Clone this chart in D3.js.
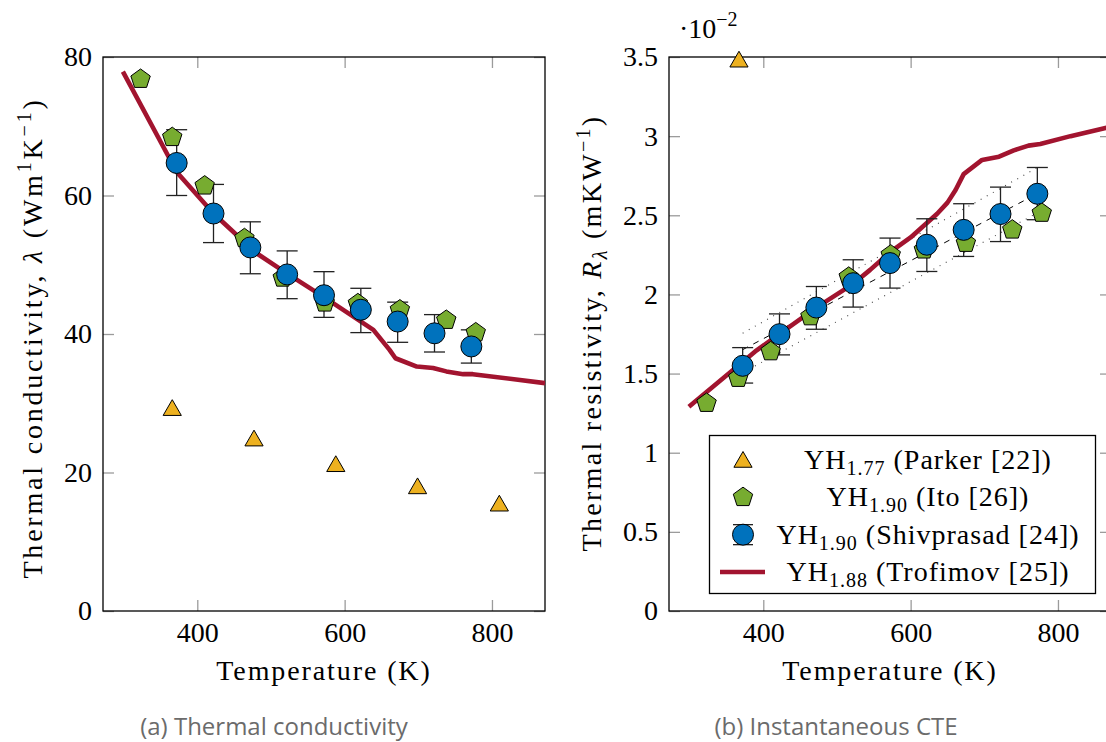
<!DOCTYPE html>
<html>
<head>
<meta charset="utf-8">
<script src="https://cdn.jsdelivr.net/npm/d3@7"></script>
<style>
    body { margin: 0; background: #fff; }
    text { font-family: "Times New Roman", "Liberation Serif", Times, serif; fill: #000; }
    .caption { font-family: "Open Sans", sans-serif; fill: #6b6b6b; }
</style>
</head>
<body>
<svg id="chart" width="1106" height="742"></svg>
<script>
// ---- data ----
const tempParker = [366, 477, 588, 699, 810];
const lambdaParker = [29.0, 24.6, 20.9, 17.7, 15.2];
const tempParkerR = [367];          // only one Parker point fits on panel (b)
const resParker = [3.47];

const tempIto = [323, 366, 410, 464, 516, 573, 618, 675, 738, 778];
const lambdaIto = [76.8, 68.4, 61.4, 53.8, 48.1, 44.5, 44.4, 43.5, 42.0, 40.2];
const resIto = [1.313, 1.471, 1.639, 1.860, 2.110, 2.250, 2.282, 2.324, 2.408, 2.514];

const tempShiv = [372, 422, 472, 522, 572, 622, 672, 722, 772];
const lambdaShiv = [64.7, 57.4, 52.5, 48.6, 45.6, 43.5, 41.8, 40.1, 38.2];
const lambdaShivLo = [60.0, 53.2, 48.7, 45.1, 42.4, 40.2, 38.8, 37.4, 35.8];
const lambdaShivHi = [69.5, 61.6, 56.2, 52.0, 49.0, 46.6, 44.6, 42.8, 40.6];
const resShiv = [1.549, 1.749, 1.917, 2.071, 2.198, 2.314, 2.408, 2.508, 2.636];
const resShivLo = [1.440, 1.618, 1.780, 1.920, 2.040, 2.145, 2.240, 2.334, 2.472];
const resShivHi = [1.664, 1.877, 2.050, 2.219, 2.356, 2.478, 2.573, 2.678, 2.802];

const tempTrofL = [299, 354, 372, 422, 480, 521, 571, 615, 639, 661, 669, 698, 720, 738, 761, 774, 872];
const lambdaTrof = [77.9, 67.0, 63.4, 57.4, 51.7, 48.8, 45.4, 42.3, 40.6, 37.7, 36.5, 35.3, 35.1, 34.6, 34.2, 34.2, 32.9];
const tempTrofR = [299, 389, 473, 523, 545, 573, 600, 636, 650, 661, 672, 697, 720, 740, 760, 776, 817, 872];
const resTrof = [1.291, 1.64, 1.92, 2.07, 2.155, 2.27, 2.36, 2.51, 2.58, 2.66, 2.76, 2.85, 2.87, 2.91, 2.94, 2.95, 3.00, 3.06];

// linear fit of Shivprasad resistivity, with its band
const fitTemp = [372, 772];
const fitMid = [1.651, 2.637];
const fitUpper = [1.755, 2.801];
const fitLower = [1.506, 2.515];

const xTicks = [400, 600, 800];
const yTicksL = [0, 20, 40, 60, 80];
const yTicksR = [0, 0.5, 1, 1.5, 2, 2.5, 3, 3.5];

const legendLabels = [
    { sub: '1.77', rest: ' (Parker [22])', mark: 'triangle' },
    { sub: '1.90', rest: ' (Ito [26])', mark: 'pentagon' },
    { sub: '1.90', rest: ' (Shivprasad [24])', mark: 'circle' },
    { sub: '1.88', rest: ' (Trofimov [25])', mark: 'line' }
];

const colors = { parker: '#EDB120', ito: '#77AC30', shiv: '#0072BD', trof: '#A2142F' };
const serif = '"Times New Roman", "Liberation Serif", Times, serif';

const svg = d3.select('#chart');

// pgfplots-like marks
const triPath = r => `M0,${-r}L${0.866 * r},${0.5 * r}L${-0.866 * r},${0.5 * r}Z`;
const pentPath = r => d3.range(5).map(i => {
    const a = -Math.PI / 2 + i * 2 * Math.PI / 5;
    return (i ? 'L' : 'M') + (r * Math.cos(a)).toFixed(2) + ',' + (r * Math.sin(a)).toFixed(2);
}).join('') + 'Z';

function drawMark(g, type, cx, cy) {
    if (type === 'triangle') {
        g.append('path').attr('d', triPath(10.5)).attr('transform', `translate(${cx},${cy})`)
            .attr('fill', colors.parker).attr('stroke', '#000').attr('stroke-width', 1);
    } else if (type === 'pentagon') {
        g.append('path').attr('d', pentPath(10.2)).attr('transform', `translate(${cx},${cy})`)
            .attr('fill', colors.ito).attr('stroke', '#000').attr('stroke-width', 1);
    } else if (type === 'circle') {
        g.append('circle').attr('cx', cx).attr('cy', cy).attr('r', 10.5)
            .attr('fill', colors.shiv).attr('stroke', '#000').attr('stroke-width', 1);
    }
}

function errorBar(g, cx, y0, y1, half) {
    g.append('line').attr('x1', cx).attr('x2', cx).attr('y1', y0).attr('y2', y1);
    g.append('line').attr('x1', cx - half).attr('x2', cx + half).attr('y1', y0).attr('y2', y0);
    g.append('line').attr('x1', cx - half).attr('x2', cx + half).attr('y1', y1).attr('y2', y1);
}

const render = p => {
    const x = d3.scaleLinear().domain([272, 872]).range([p.left, p.right]);
    const y = d3.scaleLinear().domain(p.yDomain).range([611, 57]);
    const top = 57, bottom = 611;
    const g = svg.append('g');

    const clipId = 'clip' + p.id;
    svg.append('clipPath').attr('id', clipId).append('rect')
        .attr('x', p.left).attr('y', top).attr('width', p.right - p.left).attr('height', bottom - top);

    // ticks on all four sides, pointing inward
    const tickStyle = sel => {
        sel.select('.domain').remove();
        sel.attr('font-family', serif);
        sel.selectAll('.tick line').attr('stroke', '#9b9b9b').attr('stroke-width', 1.3);
        sel.selectAll('.tick text').attr('font-size', 28).attr('fill', '#000');
    };
    g.append('g').attr('transform', `translate(0,${bottom})`)
        .call(d3.axisBottom(x).tickValues(xTicks).tickSize(-11).tickPadding(11).tickFormat(d3.format('d')))
        .call(tickStyle);
    g.append('g').attr('transform', `translate(0,${top})`)
        .call(d3.axisTop(x).tickValues(xTicks).tickSize(-11).tickFormat(''))
        .call(tickStyle);
    g.append('g').attr('transform', `translate(${p.left},0)`)
        .call(d3.axisLeft(y).tickValues(p.yTicks).tickSize(-11).tickPadding(11).tickFormat(d3.format('~g')))
        .call(tickStyle);
    g.append('g').attr('transform', `translate(${p.right},0)`)
        .call(d3.axisRight(y).tickValues(p.yTicks).tickSize(-11).tickFormat(''))
        .call(tickStyle);

    // frame
    g.append('rect').attr('x', p.left).attr('y', top).attr('width', p.right - p.left).attr('height', bottom - top)
        .attr('fill', 'none').attr('stroke', '#000').attr('stroke-width', 1.3);

    const lineGen = d3.line().x(d => x(d[0])).y(d => y(d[1]));

    // fit + band (panel b only)
    if (p.fit) {
        const lines = g.append('g').attr('clip-path', `url(#${clipId})`).attr('fill', 'none');
        lines.append('path').attr('d', lineGen(d3.zip(fitTemp, fitMid)))
            .attr('stroke', '#000').attr('stroke-width', 1).attr('stroke-dasharray', '6,6');
        [fitUpper, fitLower].forEach(band => {
            lines.append('path').attr('d', lineGen(d3.zip(fitTemp, band)))
                .attr('stroke', '#444').attr('stroke-width', 1.1).attr('stroke-dasharray', '1,6');
        });
    }

    // Trofimov curve
    g.append('path').attr('clip-path', `url(#${clipId})`)
        .attr('d', lineGen(d3.zip(p.trofT, p.trofV)))
        .attr('fill', 'none').attr('stroke', colors.trof).attr('stroke-width', 4.6).attr('stroke-linejoin', 'round');

    // error bars
    const eb = g.append('g').attr('stroke', '#222').attr('stroke-width', 1.3);
    tempShiv.forEach((t, i) => errorBar(eb, x(t), y(p.shivLo[i]), y(p.shivHi[i]), 10.5));

    const marks = g.append('g');
    p.parkT.forEach((t, i) => drawMark(marks, 'triangle', x(t), y(p.parkV[i])));
    tempIto.forEach((t, i) => drawMark(marks, 'pentagon', x(t), y(p.itoV[i])));
    tempShiv.forEach((t, i) => drawMark(marks, 'circle', x(t), y(p.shivV[i])));

    // x title
    g.append('text').attr('x', (p.left + p.right) / 2).attr('y', 680)
        .attr('text-anchor', 'middle').attr('font-size', 28).attr('letter-spacing', 1.9)
        .text('Temperature (K)');

    // y title (rotated)
    const yt = g.append('text').attr('transform', `translate(${p.titleX},${p.titleY}) rotate(-90)`)
        .attr('text-anchor', 'middle').attr('font-size', 28).attr('letter-spacing', p.titleSpacing);
    p.yTitle.forEach(part => {
        const ts = yt.append('tspan').text(part.t);
        if (part.it) ts.attr('font-style', 'italic');
        if (part.sup) ts.attr('font-size', 20).attr('dy', -11);
        if (part.sub) ts.attr('font-size', 20).attr('dy', 6);
        if (part.back) ts.attr('dy', part.back);
    });

    // caption
    svg.append('text').attr('class', 'caption').attr('x', p.captionX).attr('y', 735)
        .attr('text-anchor', 'middle').attr('font-size', 24).text(p.caption);

    return { x, y };
};

render({
    id: 'a', left: 103, right: 545, yDomain: [0, 80], yTicks: yTicksL,
    trofT: tempTrofL, trofV: lambdaTrof,
    parkT: tempParker, parkV: lambdaParker, itoV: lambdaIto,
    shivV: lambdaShiv, shivLo: lambdaShivLo, shivHi: lambdaShivHi,
    fit: false, titleX: 42, titleY: 338, titleSpacing: 2.8, captionX: 274,
    caption: '(a) Thermal conductivity',
    yTitle: [
        { t: 'Thermal conductivity, ' }, { t: 'λ', it: true }, { t: ' (Wm' },
        { t: '1', sup: true }, { t: 'K', back: 11 }, { t: '−1', sup: true }, { t: ')', back: 11 }
    ]
});

render({
    id: 'b', left: 669, right: 1111, yDomain: [0, 3.5], yTicks: yTicksR,
    trofT: tempTrofR, trofV: resTrof,
    parkT: tempParkerR, parkV: resParker, itoV: resIto,
    shivV: resShiv, shivLo: resShivLo, shivHi: resShivHi,
    fit: true, titleX: 601, titleY: 333, titleSpacing: 2.3, captionX: 836,
    caption: '(b) Instantaneous CTE',
    yTitle: [
        { t: 'Thermal resistivity, ' }, { t: 'R', it: true }, { t: 'λ', it: true, sub: true },
        { t: ' (mKW', back: -6 }, { t: '−1', sup: true }, { t: ')', back: 11 }
    ]
});

// scale factor label of panel b
const sf = svg.append('text').attr('x', 679).attr('y', 38).attr('font-size', 28);
sf.append('tspan').text('·10');
sf.append('tspan').attr('font-size', 20).attr('dy', -12).text('−2');

// legend (panel b)
const lg = svg.append('g');
lg.append('rect').attr('x', 709.5).attr('y', 435.5).attr('width', 386).attr('height', 158)
    .attr('fill', '#fff').attr('stroke', '#000').attr('stroke-width', 1.3);
const rowY = d3.scalePoint().domain(d3.range(legendLabels.length)).range([460, 572]);
legendLabels.forEach((d, i) => {
    const cy = rowY(i);
    if (d.mark === 'line') {
        lg.append('line').attr('x1', 720).attr('x2', 765).attr('y1', cy).attr('y2', cy)
            .attr('stroke', colors.trof).attr('stroke-width', 4.6);
    } else {
        if (d.mark === 'circle') {
            const e = lg.append('g').attr('stroke', '#222').attr('stroke-width', 1.3);
            errorBar(e, 743, cy - 10, cy + 10, 10);
        }
        drawMark(lg, d.mark, 743, d.mark === 'triangle' ? cy + 2 : cy);
    }
    const t = lg.append('text').attr('x', 928).attr('y', cy + 9)
        .attr('text-anchor', 'middle').attr('font-size', 28).attr('letter-spacing', 1);
    t.append('tspan').text('YH');
    t.append('tspan').attr('font-size', 20).attr('dy', 6).text(d.sub);
    t.append('tspan').attr('dy', -6).text(d.rest);
});
</script>
</body>
</html>
